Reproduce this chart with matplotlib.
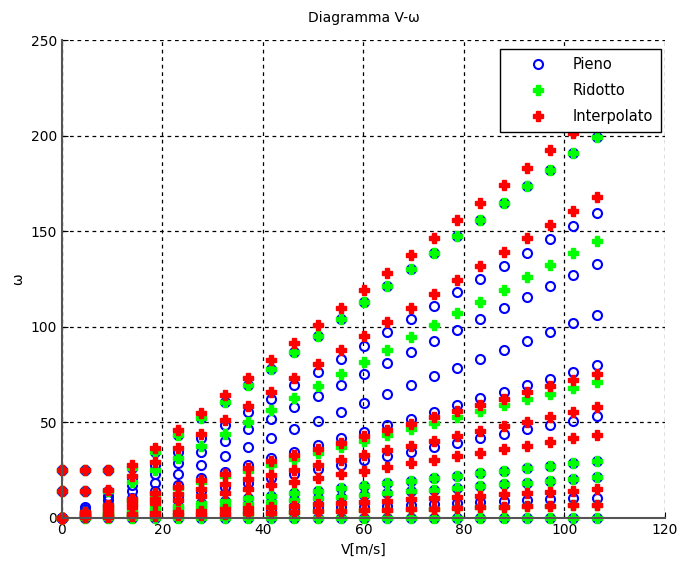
import matplotlib
matplotlib.use("Agg")
import matplotlib.pyplot as plt

# velocita' (m/s), una colonna di punti per ogni valore
V = [0.00, 4.63, 9.25, 13.88, 18.50, 23.13, 27.76, 32.38, 37.01, 41.63, 46.26, 50.89,
     55.51, 60.14, 64.76, 69.39, 74.02, 78.64, 83.27, 87.90, 92.52, 97.15, 101.77, 106.40]

# omega, una riga per curva
pieno = [
    [25, 25, 25, 26.0, 34.7, 43.4, 52.1, 60.7, 69.4, 78.1, 86.7, 95.4, 104.1, 112.8, 121.4, 130.1, 138.8, 147.5, 156.1, 164.8, 173.5, 182.2, 190.8, 199.5],
    [14, 14, 14, 20.8, 27.8, 34.7, 41.6, 48.6, 55.5, 62.4, 69.4, 76.3, 83.3, 90.2, 97.1, 104.1, 111.0, 118.0, 124.9, 131.9, 138.8, 145.7, 152.7, 159.6],
    [0, 5.8, 11.6, 17.4, 23.1, 28.9, 34.7, 40.5, 46.3, 52.0, 57.8, 63.6, 69.4, 75.2, 81.0, 86.7, 92.5, 98.3, 104.1, 109.9, 115.7, 121.4, 127.2, 133.0],
    [0, 4.6, 9.3, 13.9, 18.5, 23.1, 27.8, 32.4, 37.0, 41.6, 46.3, 50.9, 55.5, 60.1, 64.8, 69.4, 74.0, 78.6, 83.3, 87.9, 92.5, 97.2, 101.8, 106.4],
    [0, 3.5, 6.9, 10.4, 13.9, 17.3, 20.8, 24.3, 27.8, 31.2, 34.7, 38.2, 41.6, 45.1, 48.6, 52.0, 55.5, 59.0, 62.5, 65.9, 69.4, 72.9, 76.3, 79.8],
    [0, 2.3, 4.6, 6.9, 9.3, 11.6, 13.9, 16.2, 18.5, 20.8, 23.1, 25.4, 27.8, 30.1, 32.4, 34.7, 37.0, 39.3, 41.6, 44.0, 46.3, 48.6, 50.9, 53.2],
    [0, 1.3, 2.6, 3.9, 5.2, 6.5, 7.8, 9.1, 10.4, 11.7, 13.0, 14.2, 15.5, 16.8, 18.1, 19.4, 20.7, 22.0, 23.3, 24.6, 25.9, 27.2, 28.5, 29.8],
    [0, 0.9, 1.9, 2.8, 3.7, 4.6, 5.6, 6.5, 7.4, 8.3, 9.3, 10.2, 11.1, 12.0, 13.0, 13.9, 14.8, 15.7, 16.7, 17.6, 18.5, 19.4, 20.4, 21.3],
    [0, 0.5, 0.9, 1.4, 1.9, 2.3, 2.8, 3.2, 3.7, 4.2, 4.6, 5.1, 5.6, 6.0, 6.5, 6.9, 7.4, 7.9, 8.3, 8.8, 9.3, 9.7, 10.2, 10.6],
    [0, 0, 0, 0, 0, 0, 0, 0, 0, 0, 0, 0, 0, 0, 0, 0, 0, 0, 0, 0, 0, 0, 0, 0],
]

ridotto = [
    [25, 25, 25, 26.0, 34.7, 43.4, 52.1, 60.7, 69.4, 78.1, 86.7, 95.4, 104.1, 112.8, 121.4, 130.1, 138.8, 147.5, 156.1, 164.8, 173.5, 182.2, 190.8, 199.5],
    [14, 14, 14, 18.9, 25.2, 31.5, 37.8, 44.0, 50.3, 56.6, 62.9, 69.2, 75.5, 81.8, 88.1, 94.4, 100.7, 107.0, 113.2, 119.5, 125.8, 132.1, 138.4, 144.7],
    [0, 3.1, 6.2, 9.3, 12.4, 15.5, 18.6, 21.7, 24.8, 27.9, 31.0, 34.1, 37.2, 40.3, 43.4, 46.5, 49.6, 52.7, 55.8, 58.9, 62.0, 65.1, 68.2, 71.3],
    [0, 1.3, 2.6, 3.9, 5.2, 6.5, 7.8, 9.1, 10.4, 11.7, 13.0, 14.2, 15.5, 16.8, 18.1, 19.4, 20.7, 22.0, 23.3, 24.6, 25.9, 27.2, 28.5, 29.8],
    [0, 0.9, 1.9, 2.8, 3.7, 4.6, 5.6, 6.5, 7.4, 8.3, 9.3, 10.2, 11.1, 12.0, 13.0, 13.9, 14.8, 15.7, 16.7, 17.6, 18.5, 19.4, 20.4, 21.3],
    [0, 0.3, 0.6, 0.9, 1.2, 1.5, 1.8, 2.1, 2.4, 2.7, 3.1, 3.4, 3.7, 4.0, 4.3, 4.6, 4.9, 5.2, 5.5, 5.8, 6.1, 6.4, 6.7, 7.0],
    [0, 0, 0, 0, 0, 0, 0, 0, 0, 0, 0, 0, 0, 0, 0, 0, 0, 0, 0, 0, 0, 0, 0, 0],
]

interpolato = [
    [25, 25, 25, 27.5, 36.6, 45.8, 55.0, 64.1, 73.3, 82.4, 91.6, 100.8, 109.9, 119.1, 128.2, 137.4, 146.6, 155.7, 164.9, 174.0, 183.2, 192.4, 201.5, 210.7],
    [14, 14, 14.6, 21.9, 29.2, 36.5, 43.9, 51.2, 58.5, 65.8, 73.1, 80.4, 87.7, 95.0, 102.3, 109.6, 117.0, 124.3, 131.6, 138.9, 146.2, 153.5, 160.8, 168.1],
    [0, 3.3, 6.6, 9.9, 13.1, 16.4, 19.7, 23.0, 26.3, 29.6, 32.8, 36.1, 39.4, 42.7, 46.0, 49.3, 52.6, 55.8, 59.1, 62.4, 65.7, 69.0, 72.3, 75.5],
    [0, 2.5, 5.0, 7.6, 10.1, 12.6, 15.1, 17.6, 20.2, 22.7, 25.2, 27.7, 30.3, 32.8, 35.3, 37.8, 40.3, 42.9, 45.4, 47.9, 50.4, 52.9, 55.5, 58.0],
    [0, 1.9, 3.8, 5.7, 7.6, 9.5, 11.4, 13.3, 15.2, 17.1, 19.0, 20.9, 22.8, 24.7, 26.6, 28.5, 30.3, 32.2, 34.1, 36.0, 37.9, 39.8, 41.7, 43.6],
    [0, 0.6, 1.3, 1.9, 2.6, 3.2, 3.9, 4.5, 5.2, 5.8, 6.5, 7.1, 7.8, 8.4, 9.1, 9.7, 10.4, 11.0, 11.7, 12.3, 13.0, 13.6, 14.2, 14.9],
    [0, 0.3, 0.6, 0.9, 1.2, 1.5, 1.8, 2.1, 2.4, 2.7, 3.1, 3.4, 3.7, 4.0, 4.3, 4.6, 4.9, 5.2, 5.5, 5.8, 6.1, 6.4, 6.7, 7.0],
]

fig = plt.figure(figsize=(6.84, 5.74), dpi=100)
ax = fig.add_axes([0.0906, 0.0976, 0.8816, 0.8327])

# Pieno
for i, row in enumerate(pieno):
    ax.plot(V, row, linestyle='none', marker='o', markersize=6.5, markerfacecolor='none',
            markeredgecolor='blue', markeredgewidth=1.5, clip_on=False,
            label='Pieno' if i == 0 else None)
# Ridotto
for i, row in enumerate(ridotto):
    ax.plot(V, row, linestyle='none', marker='P', markersize=6.5, color='#00ff00',
            markeredgecolor='#00ff00', clip_on=False,
            label='Ridotto' if i == 0 else None)
# Interpolato
for i, row in enumerate(interpolato):
    ax.plot(V, row, linestyle='none', marker='P', markersize=6.5, color='red',
            markeredgecolor='red', clip_on=False,
            label='Interpolato' if i == 0 else None)

ax.set_xlim(0, 120)
ax.set_ylim(0, 250)
ax.set_xticks(range(0, 121, 20))
ax.set_yticks(range(0, 251, 50))
ax.set_axisbelow(True)
ax.grid(True, linestyle=(0, (3, 3)), color='black', linewidth=0.9)
ax.spines['top'].set_visible(False)
ax.spines['right'].set_visible(False)
ax.spines['left'].set_color('#555555')
ax.spines['bottom'].set_color('#555555')
ax.spines['left'].set_linewidth(1.5)
ax.spines['bottom'].set_linewidth(1.5)
ax.tick_params(direction='in', length=4, labelsize=10)

ax.set_title('Diagramma V-ω', fontsize=10, pad=13)
ax.set_xlabel('V[m/s]', fontsize=10)
ax.set_ylabel('ω', fontsize=10)

leg = ax.legend(loc='upper right', bbox_to_anchor=(0.9934, 0.9812), fontsize=10.5,
                fancybox=False, framealpha=1, edgecolor='black', borderaxespad=0,
                borderpad=0.56, handlelength=4.1, handletextpad=0.3, labelspacing=0.75)
leg.get_frame().set_linewidth(1.0)
leg.set_zorder(10)

plt.savefig('out.png', dpi=100)
